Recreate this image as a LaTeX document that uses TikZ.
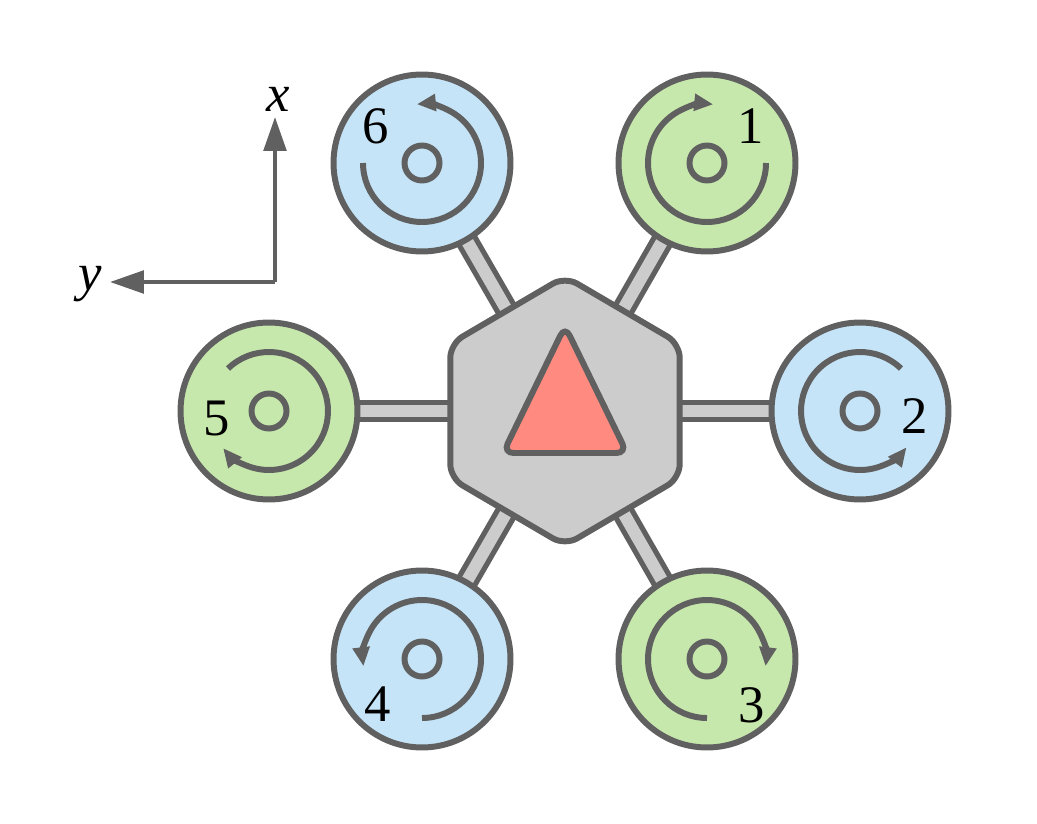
\documentclass[tikz,border=0pt]{standalone}
\usepackage{fontspec}
\setmainfont{Liberation Serif}
\usetikzlibrary{arrows.meta,shapes.geometric,backgrounds}
\definecolor{strokegray}{HTML}{606060}
\definecolor{bodygray}{HTML}{CCCCCC}
\definecolor{rotorblue}{HTML}{C5E4F7}
\definecolor{rotorgreen}{HTML}{C7E8AC}
\definecolor{nosered}{HTML}{FF8B80}
\tikzset{
	rotor/.style={circle,draw=strokegray,line width=3.4pt,minimum size=3.54cm,inner sep=0pt,outer sep=0pt},
	shaft/.style={circle,draw=strokegray,line width=3.4pt,minimum size=0.7cm,inner sep=0pt,outer sep=0pt},
	spin/.style={draw=strokegray,line width=3.4pt,-{Triangle[length=10.8pt,width=9.3pt]}},
	arm/.style={draw=strokegray,line width=3pt,double=bodygray,double distance=7pt},
	axis/.style={draw=strokegray,line width=2.3pt,-{Triangle[length=19.3pt,width=12.8pt]}},
	num/.style={font=\fontsize{30}{30}\selectfont,inner sep=0pt}
}
\begin{document}
\begin{tikzpicture}[x=0.02cm,y=0.02cm]
	\useasboundingbox (0,0) rectangle (1037,823);

	\node [regular polygon,regular polygon sides=6,shape border rotate=30,minimum size=5.38cm,inner sep=0pt,outer sep=0pt,xscale=0.985,
		draw=strokegray,fill=bodygray,line width=3.4pt,rounded corners=8pt] (hub) at (565,412) {};
	\coordinate (nose1) at (565,497);
	\coordinate (nose2) at (503,370);
	\coordinate (nose3) at (627,370);
	\draw [draw=strokegray,fill=nosered,line width=3.4pt,rounded corners=6pt] (nose1) -- (nose2) -- (nose3) -- cycle;

	\node [rotor,fill=rotorgreen] (m1) at (707,660) {};
	\node [rotor,fill=rotorblue] (m2) at (860,412) {};
	\node [rotor,fill=rotorgreen] (m3) at (707,164) {};
	\node [rotor,fill=rotorblue] (m4) at (422,164) {};
	\node [rotor,fill=rotorgreen] (m5) at (269,412) {};
	\node [rotor,fill=rotorblue] (m6) at (422,660) {};

	\begin{scope}[on background layer]
		\path (hub.center) edge [arm] (m1.center);
		\path (hub.center) edge [arm] (m2.center);
		\path (hub.center) edge [arm] (m3.center);
		\path (hub.center) edge [arm] (m4.center);
		\path (hub.center) edge [arm] (m5.center);
		\path (hub.center) edge [arm] (m6.center);
	\end{scope}

	\node [shaft] (s1) at (m1) {};
	\node [shaft] (s2) at (m2) {};
	\node [shaft] (s3) at (m3) {};
	\node [shaft] (s4) at (m4) {};
	\node [shaft] (s5) at (m5) {};
	\node [shaft] (s6) at (m6) {};

	\draw [spin] ([shift={(0:59)}]m1.center) arc [start angle=0,end angle=-276,radius=59];
	\draw [spin] ([shift={(46:59)}]m2.center) arc [start angle=46,end angle=322,radius=59];
	\draw [spin] ([shift={(-90:59)}]m3.center) arc [start angle=-90,end angle=-367,radius=59];
	\draw [spin] ([shift={(-90:59)}]m4.center) arc [start angle=-90,end angle=187,radius=59];
	\draw [spin] ([shift={(134:59)}]m5.center) arc [start angle=134,end angle=-141,radius=59];
	\draw [spin] ([shift={(180:59)}]m6.center) arc [start angle=180,end angle=455,radius=59];

	\node [num] (n1) at (751,697) {1};
	\node [num] (n2) at (915,407) {2};
	\node [num] (n3) at (752,118) {3};
	\node [num] (n4) at (378,119) {4};
	\node [num] (n5) at (217,405) {5};
	\node [num] (n6) at (376,697) {6};

	\coordinate (origin) at (275,541);
	\coordinate (xtip) at (275,706);
	\coordinate (ytip) at (110,541);
	\draw [axis] (origin) -- (xtip);
	\draw [axis] (origin) -- (ytip);
	\node [num] (xlab) at (278,724) {\textit{x}};
	\node [num] (ylab) at (90,539) {\textit{y}};
\end{tikzpicture}
\end{document}
